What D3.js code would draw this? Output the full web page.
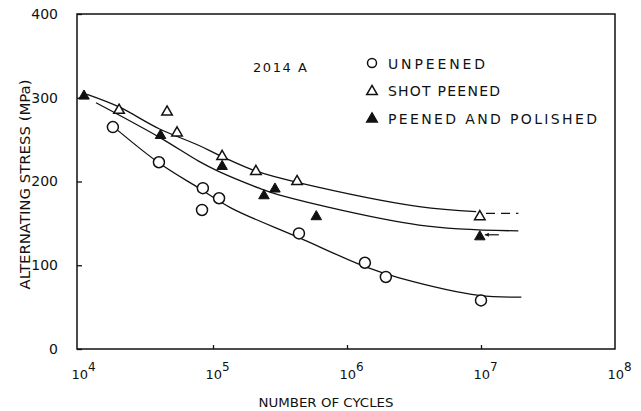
<!DOCTYPE html>
<html>
<head>
<meta charset="utf-8">
<script src="https://cdn.jsdelivr.net/npm/d3@7"></script>
<style>
  body { margin: 0; background: #fff; }
  svg text { font-family: "DejaVu Sans", sans-serif; fill: #111; }
</style>
</head>
<body>
<div id="chart"></div>
<script>
// values: [cycles, stress MPa]
var unpeened = [[17900, 265], [39500, 223], [84000, 192], [111000, 180], [82800, 166],
                [438000, 138], [1360000, 103], [1950000, 86], [10000000, 58]];
var shotPeened = [[19900, 285], [45400, 283], [53900, 258], [117000, 230], [209000, 212],
                  [424000, 200], [9800000, 158]];
var peenedPolished = [[10900, 302], [40600, 255], [117000, 218], [240000, 183], [290000, 191],
                      [590000, 158], [9800000, 134]];

// hand-drawn fit curves
var curveUnpeened = [[16700, 270], [39600, 222], [78700, 192], [138000, 168], [438000, 133],
                     [1380000, 98], [2450000, 85], [9700000, 64], [20000000, 62]];
var curveShot = [[11500, 304], [19900, 289], [39600, 263], [78700, 243], [116000, 230],
                 [213000, 212], [425000, 199], [3450000, 170], [9200000, 164]];
var curveShotRunout = [[10900000, 162], [19000000, 162]];
var curvePolished = [[13400, 294], [39600, 253], [78700, 224], [110000, 212], [221000, 192],
                     [310000, 184], [3450000, 148], [19000000, 141]];

var xTicks = [1e4, 1e5, 1e6, 1e7, 1e8];
var yTicks = [0, 100, 200, 300, 400];
var legendItems = ["UNPEENED", "SHOT PEENED", "PEENED AND POLISHED"];

var W = 641, H = 411;
var margin = {top: 14, right: 26, bottom: 62, left: 79};

var svg = d3.select("#chart").append("svg")
    .attr("width", W).attr("height", H);

var x = d3.scaleLog().domain([1e4, 1e8]).range([margin.left, W - margin.right]);
var y = d3.scaleLinear().domain([0, 400]).range([H - margin.bottom, margin.top]);

// frame
svg.append("rect")
    .attr("x", x(1e4) - 2).attr("y", y(400))
    .attr("width", x(1e8) - x(1e4) + 2).attr("height", y(0) - y(400))
    .attr("fill", "none").attr("stroke", "#111").attr("stroke-width", 1.5);

// y axis
var yAxis = svg.append("g")
    .attr("transform", "translate(" + (x(1e4) - 2) + ",0)")
    .call(d3.axisLeft(y).tickValues(yTicks).tickSize(-5).tickPadding(19));
yAxis.select(".domain").remove();
yAxis.selectAll("line").attr("stroke", "#111").attr("stroke-width", 1.3);
yAxis.selectAll("text").style("font-size", "14px").attr("fill", "#111");

// x axis
var xAxis = svg.append("g")
    .attr("transform", "translate(0," + y(0) + ")")
    .call(d3.axisBottom(x).tickValues(xTicks).tickSize(-4).tickFormat(""));
xAxis.select(".domain").remove();
xAxis.selectAll("line").attr("stroke", "#111").attr("stroke-width", 1.3);
xAxis.selectAll(".tick").filter(function(d) { return d == 1e4 || d == 1e8; }).select("line").remove();
xAxis.selectAll(".tick").append("text")
    .attr("y", 30).attr("text-anchor", "start").attr("x", -8)
    .style("font-size", "13px")
    .each(function(d) {
      var t = d3.select(this);
      t.append("tspan").text("10");
      t.append("tspan").attr("dy", -8).style("font-size", "12px")
        .text(Math.round(Math.log10(d)));
    });

// axis titles
svg.append("text")
    .attr("transform", "translate(30," + ((y(0) + y(400)) / 2 + 3) + ") rotate(-90)")
    .attr("text-anchor", "middle")
    .attr("textLength", 210).attr("lengthAdjust", "spacingAndGlyphs")
    .style("font-size", "14px")
    .text("ALTERNATING STRESS (MPa)");

svg.append("text")
    .attr("x", 326).attr("y", 407)
    .attr("text-anchor", "middle")
    .attr("textLength", 135).attr("lengthAdjust", "spacingAndGlyphs")
    .style("font-size", "13px")
    .text("NUMBER OF CYCLES");

svg.append("text")
    .attr("x", 253).attr("y", 72)
    .attr("textLength", 54).attr("lengthAdjust", "spacing")
    .style("font-size", "13px")
    .text("2014 A");

// fit curves
var line = d3.line()
    .x(function(d) { return x(d[0]); })
    .y(function(d) { return y(d[1]); })
    .curve(d3.curveCatmullRom.alpha(0.5));

[curveUnpeened, curveShot, curvePolished].forEach(function(c) {
  svg.append("path").datum(c)
      .attr("d", line)
      .attr("fill", "none").attr("stroke", "#111").attr("stroke-width", 1.3);
});
svg.append("path").datum(curveShotRunout)
    .attr("d", line)
    .attr("fill", "none").attr("stroke", "#111").attr("stroke-width", 1.3)
    .attr("stroke-dasharray", "9,6");

// runout arrow on the last polished point
var last = peenedPolished[peenedPolished.length - 1];
svg.append("path")
    .attr("d", "M" + (x(last[0]) + 5) + "," + (y(last[1]) - 2) + "h14")
    .attr("stroke", "#111").attr("stroke-width", 1.2);
svg.append("path")
    .attr("d", "M" + (x(last[0]) + 5) + "," + (y(last[1]) - 2) + "l4,-2v4z")
    .attr("fill", "#111");

// markers
var tri = d3.symbol().type(d3.symbolTriangle).size(48);

svg.append("g").selectAll("circle").data(unpeened).join("circle")
    .attr("cx", function(d) { return x(d[0]); })
    .attr("cy", function(d) { return y(d[1]); })
    .attr("r", 5.5)
    .attr("fill", "#fff").attr("stroke", "#111").attr("stroke-width", 1.5);

svg.append("g").selectAll("path").data(shotPeened).join("path")
    .attr("transform", function(d) { return "translate(" + x(d[0]) + "," + y(d[1]) + ")"; })
    .attr("d", tri)
    .attr("fill", "#fff").attr("stroke", "#111").attr("stroke-width", 1.5);

svg.append("g").selectAll("path").data(peenedPolished).join("path")
    .attr("transform", function(d) { return "translate(" + x(d[0]) + "," + y(d[1]) + ")"; })
    .attr("d", tri)
    .attr("fill", "#111").attr("stroke", "#111").attr("stroke-width", 1);

// legend
var legend = svg.append("g");
var lw = [97, 112, 209];
legendItems.forEach(function(name, i) {
  var ly = 63 + i * 27.5;
  if (i == 0) {
    legend.append("circle").attr("cx", 372).attr("cy", ly).attr("r", 4.5)
        .attr("fill", "#fff").attr("stroke", "#111").attr("stroke-width", 1.5);
  } else {
    legend.append("path")
        .attr("transform", "translate(372," + (ly + 1) + ")")
        .attr("d", tri)
        .attr("fill", i == 1 ? "#fff" : "#111")
        .attr("stroke", "#111").attr("stroke-width", 1.5);
  }
  legend.append("text")
      .attr("x", 388).attr("y", ly + 5.5)
      .attr("textLength", lw[i]).attr("lengthAdjust", "spacing")
      .style("font-size", "14px")
      .text(name);
});
</script>
</body>
</html>
